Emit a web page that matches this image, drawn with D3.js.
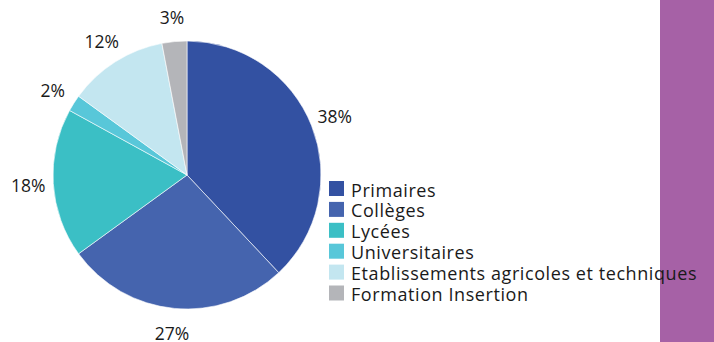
<!DOCTYPE html>
<html>
<head>
<meta charset="utf-8">
<script src="https://cdn.jsdelivr.net/npm/d3@7/dist/d3.min.js"></script>
<style>
  html, body { margin: 0; padding: 0; background: #fff; }
  svg { display: block; }
  text { font-family: "Open Sans", Lato, sans-serif; fill: #1a1a1a; }
</style>
</head>
<body>
<svg id="chart" width="714" height="342"></svg>
<script>
// Répartition par type d'établissement (en %)
const categories = ["Primaires", "Collèges", "Lycées", "Universitaires", "Etablissements agricoles et techniques", "Formation Insertion"];
const values = [38, 27, 18, 2, 12, 3];
const colors = ["#3351A2", "#4564AE", "#3BBFC5", "#58C7D9", "#C3E6F0", "#B4B5B9"];

const svg = d3.select("#chart");
const W = 714, H = 342;

// Bandeau violet à droite
svg.append("rect")
  .attr("x", 660).attr("y", 0)
  .attr("width", W - 660).attr("height", H)
  .attr("fill", "#A661A6");

const cx = 187, cy = 175, R = 134;

const pie = d3.pie().sort(null).value(d => d)(values);
const arc = d3.arc().innerRadius(0).outerRadius(R);
const labelArc = d3.arc().innerRadius(159).outerRadius(159);

const g = svg.append("g").attr("transform", `translate(${cx},${cy})`);

g.selectAll("path.slice")
  .data(pie)
  .join("path")
  .attr("class", "slice")
  .attr("d", arc)
  .attr("fill", (d, i) => colors[i])
  .attr("stroke", "#ffffff")
  .attr("stroke-width", 0.6);

g.selectAll("text.pct")
  .data(pie)
  .join("text")
  .attr("class", "pct")
  .attr("transform", d => `translate(${labelArc.centroid(d)})`)
  .attr("text-anchor", "middle")
  .attr("dominant-baseline", "central")
  .attr("font-size", 17.5)
  .text(d => d.data + "%");

// Légende
const lx = 329, ly = 181, step = 20.9, sq = 15;
const leg = svg.append("g");
const rows = leg.selectAll("g.row")
  .data(categories)
  .join("g")
  .attr("class", "row")
  .attr("transform", (d, i) => `translate(${lx},${ly + i * step})`);

rows.append("rect")
  .attr("width", sq).attr("height", sq)
  .attr("fill", (d, i) => colors[i]);

const labels = rows.append("text")
  .attr("x", 22)
  .attr("y", sq / 2 + 1)
  .attr("dominant-baseline", "central")
  .attr("font-size", 18)
  .text(d => d);

// Espacement des lettres : la plus longue entrée occupe 346 px
let longest = null, maxW = 0;
labels.each(function (d) {
  const w = this.getComputedTextLength();
  if (w > maxW) { maxW = w; longest = d; }
});
const spacing = (346 - maxW) / longest.length;
labels.attr("letter-spacing", spacing.toFixed(2) + "px");
</script>
</body>
</html>
